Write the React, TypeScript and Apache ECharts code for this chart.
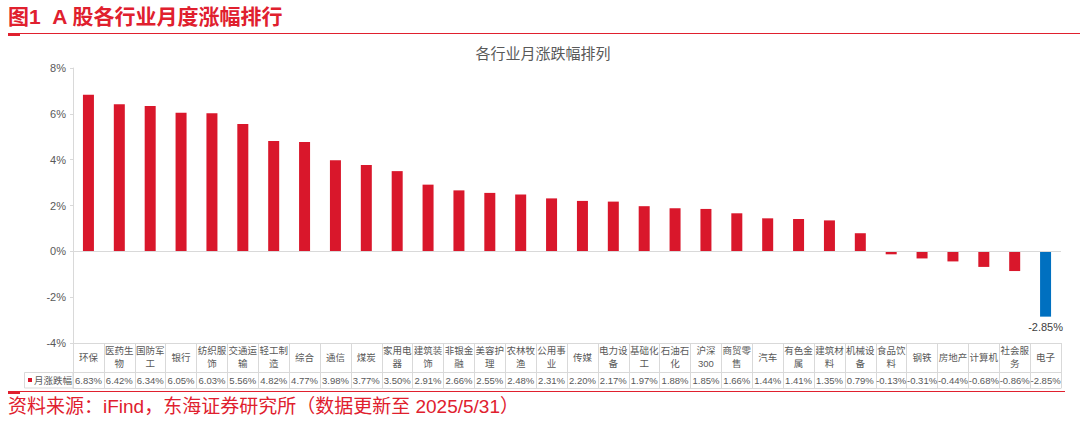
import React, { useEffect, useRef } from "react";
import * as echarts from "echarts";

const categories = [
  "环保", "医药生物", "国防军工", "银行", "纺织服饰", "交通运输", "轻工制造", "综合",
  "通信", "煤炭", "家用电器", "建筑装饰", "非银金融", "美容护理", "农林牧渔", "公用事业",
  "传媒", "电力设备", "基础化工", "石油石化", "沪深300", "商贸零售", "汽车", "有色金属",
  "建筑材料", "机械设备", "食品饮料", "钢铁", "房地产", "计算机", "社会服务", "电子",
];
const monthlyChange = [
  6.83, 6.42, 6.34, 6.05, 6.03, 5.56, 4.82, 4.77,
  3.98, 3.77, 3.5, 2.91, 2.66, 2.55, 2.48, 2.31,
  2.2, 2.17, 1.97, 1.88, 1.85, 1.66, 1.44, 1.41,
  1.35, 0.79, -0.13, -0.31, -0.44, -0.68, -0.86, -2.85,
];
const yTicks = { min: -4, max: 8, interval: 2 };
const highlightIndex = 31;

const FONT = "Arial, 'Liberation Sans', 'Noto Sans CJK SC', sans-serif";
const RED = "#D9172B";
const BLUE = "#0070C0";
const GRAY_LINE = "#D9D9D9";
const TEXT = "#595959";

function wrapName(n: string): string {
  if (n === "沪深300") return "沪深\n300";
  if (n.length > 3) return n.slice(0, 3) + "\n" + n.slice(3);
  return n;
}

export default function App() {
  const ref = useRef<HTMLDivElement>(null);
  useEffect(() => {
    if (!ref.current) return;
    const chart = echarts.init(ref.current, null, { renderer: "svg" });
    const option: any = {
      animation: false,
      backgroundColor: "#ffffff",
      textStyle: { fontFamily: FONT },
      grid: { left: 73, right: 19, top: 68, bottom: 79, containLabel: false },
      xAxis: [
        {
          type: "category",
          data: categories,
          position: "bottom",
          boundaryGap: true,
          axisLine: { onZero: false, lineStyle: { color: GRAY_LINE } },
          axisTick: { show: true, interval: 0, length: 45, lineStyle: { color: GRAY_LINE } },
          axisLabel: {
            interval: 0,
            fontSize: 9.5,
            color: TEXT,
            fontFamily: FONT,
            lineHeight: 13,
            verticalAlign: "middle",
            margin: 14,
            formatter: (v: string) => wrapName(v),
          },
        },
        {
          type: "category",
          data: categories,
          position: "bottom",
          offset: 29,
          axisLine: { onZero: false, lineStyle: { color: GRAY_LINE } },
          axisTick: { show: false },
          axisLabel: {
            interval: 0,
            fontSize: 9.5,
            color: TEXT,
            fontFamily: FONT,
            verticalAlign: "middle",
            margin: 8,
            formatter: (_v: string, i: number) => monthlyChange[i].toFixed(2) + "%",
          },
        },
        {
          type: "category",
          data: categories,
          position: "bottom",
          offset: 45,
          axisLine: { onZero: false, lineStyle: { color: GRAY_LINE } },
          axisTick: { show: false },
          axisLabel: { show: false },
        },
      ],
      yAxis: {
        type: "value",
        min: yTicks.min,
        max: yTicks.max,
        interval: yTicks.interval,
        axisLine: { show: true, lineStyle: { color: GRAY_LINE } },
        axisTick: { show: true, length: 3, lineStyle: { color: GRAY_LINE } },
        splitLine: { show: false },
        axisLabel: { fontSize: 11, color: TEXT, margin: 7, formatter: "{value}%", fontFamily: FONT },
      },
      series: [
        {
          type: "bar",
          xAxisIndex: 0,
          barWidth: 11,
          data: monthlyChange.map((v, i) =>
            i === highlightIndex
              ? {
                  value: v,
                  itemStyle: { color: BLUE },
                  label: {
                    show: true,
                    position: "bottom",
                    distance: 5,
                    fontSize: 11,
                    color: "#404040",
                    fontFamily: FONT,
                    formatter: (p: any) => p.value.toFixed(2) + "%",
                  },
                }
              : { value: v, itemStyle: { color: RED } }
          ),
          markLine: {
            silent: true,
            symbol: "none",
            label: { show: false },
            lineStyle: { color: GRAY_LINE, type: "solid", width: 1 },
            data: [{ yAxis: 0 }],
          },
        },
      ],
      graphic: [
        {
          type: "text",
          left: 8,
          top: 6,
          style: { text: "图1  A 股各行业月度涨幅排行", font: `bold 21px ${FONT}`, fill: "#E0202E" },
        },
        { type: "line", shape: { x1: 8, y1: 33.5, x2: 1080, y2: 33.5 }, style: { stroke: "#E0202E", lineWidth: 1.2 } },
        { type: "rect", shape: { x: 8, y: 33, width: 12, height: 3 }, style: { fill: "#E0202E" } },
        {
          type: "text",
          x: 543,
          y: 53,
          style: {
            text: "各行业月涨跌幅排列",
            font: `15px ${FONT}`,
            fill: TEXT,
            textAlign: "center",
            textVerticalAlign: "middle",
          },
        },
        {
          type: "rect",
          shape: { x: 24.5, y: 372.5, width: 48.5, height: 15.5 },
          style: { fill: "none", stroke: GRAY_LINE, lineWidth: 1 },
        },
        { type: "rect", shape: { x: 28, y: 378, width: 4, height: 4 }, style: { fill: RED } },
        {
          type: "text",
          x: 34,
          y: 380.5,
          style: { text: "月涨跌幅", font: `9.5px ${FONT}`, fill: TEXT, textVerticalAlign: "middle" },
        },
        { type: "line", shape: { x1: 8, y1: 391.5, x2: 1065, y2: 391.5 }, style: { stroke: "#E0202E", lineWidth: 1.2 } },
        { type: "rect", shape: { x: 8, y: 391, width: 12, height: 3 }, style: { fill: "#E0202E" } },
        {
          type: "text",
          left: 8,
          top: 397,
          style: {
            text: "资料来源：iFind，东海证券研究所（数据更新至 2025/5/31）",
            font: `19px ${FONT}`,
            fill: "#E0202E",
          },
        },
      ],
    };
    chart.setOption(option);
    return () => chart.dispose();
  }, []);
  return (
    <div
      ref={ref}
      style={{ position: "fixed", left: 0, top: 0, width: 1080, height: 422, background: "#fff" }}
    />
  );
}
